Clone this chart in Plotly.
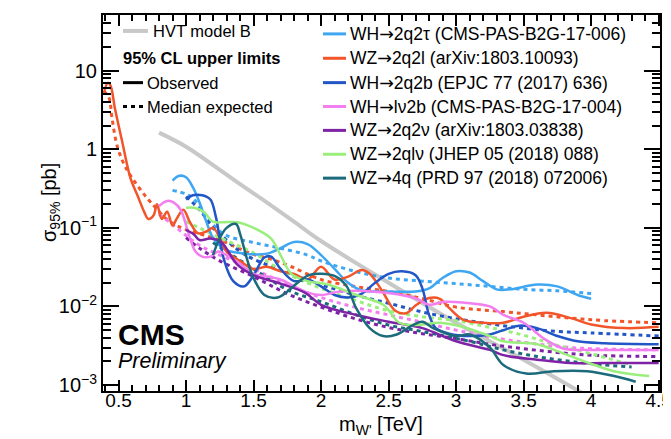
import plotly.graph_objects as go

# ---------------- data ----------------
hvt_m = [0.8, 1.0, 1.2, 1.4, 1.6, 1.8, 2.0, 2.5, 3.0, 3.5, 4.0]
hvt_s = [1.63, 1.08, 0.63, 0.36, 0.21, 0.12, 0.068, 0.020, 0.0062, 0.0021, 0.00068]

# WH->2q2tau (light blue)
tau_obs_m = [0.9, 0.95, 1.0, 1.05, 1.1, 1.15, 1.2, 1.3, 1.4, 1.5, 1.6, 1.7, 1.8, 1.9, 2.0, 2.1, 2.2, 2.3, 2.5, 2.7, 2.8, 2.9, 3.0, 3.1, 3.2, 3.3, 3.4, 3.6, 3.75, 3.9, 4.0]
tau_obs_s = [0.40, 0.46, 0.44, 0.33, 0.21, 0.12, 0.075, 0.052, 0.048, 0.046, 0.047, 0.055, 0.066, 0.062, 0.045, 0.030, 0.020, 0.016, 0.0155, 0.0155, 0.017, 0.023, 0.028, 0.027, 0.021, 0.0165, 0.0165, 0.019, 0.018, 0.014, 0.0125]
tau_exp_m = [0.9, 1.0, 1.05, 1.1, 1.2, 1.3, 1.5, 1.7, 1.9, 2.0, 2.25, 2.5, 2.75, 3.0, 3.25, 3.5, 3.75, 4.0]
tau_exp_s = [0.30, 0.27, 0.24, 0.19, 0.11, 0.08, 0.065, 0.055, 0.045, 0.038, 0.028, 0.023, 0.021, 0.0195, 0.018, 0.0165, 0.0158, 0.0146]

# WZ->2q2l (orange)
ll_obs_m = [0.39, 0.42, 0.44, 0.475, 0.525, 0.59, 0.64, 0.69, 0.72, 0.76, 0.785, 0.82, 0.86, 0.90, 0.93, 0.98, 1.03, 1.09, 1.15, 1.2, 1.25, 1.3, 1.4, 1.5, 1.6, 1.7, 1.8, 1.9, 2.0, 2.1, 2.2, 2.3, 2.36, 2.45, 2.55, 2.63, 2.7, 2.8, 2.88, 2.95, 3.05, 3.2, 3.35, 3.5, 3.67, 3.85, 4.0, 4.25, 4.5]
ll_obs_s = [5.0, 7.0, 6.5, 3.2, 1.3, 0.42, 0.26, 0.16, 0.13, 0.145, 0.20, 0.13, 0.16, 0.107, 0.13, 0.17, 0.117, 0.085, 0.09, 0.10, 0.075, 0.05, 0.038, 0.030, 0.032, 0.028, 0.026, 0.022, 0.032, 0.022, 0.024, 0.029, 0.026, 0.016, 0.0088, 0.0082, 0.0103, 0.0128, 0.0125, 0.0095, 0.0068, 0.0062, 0.0062, 0.0074, 0.0083, 0.0071, 0.0059, 0.0053, 0.0055]
ll_exp_m = [0.39, 0.43, 0.45, 0.49, 0.54, 0.59, 0.66, 0.74, 0.88, 1.0, 1.25, 1.4, 1.5, 1.63, 1.78, 2.0, 2.25, 2.5, 2.75, 3.0, 3.35, 3.6, 3.85, 4.1, 4.5]
ll_exp_s = [5.5, 4.5, 2.6, 1.1, 0.65, 0.46, 0.31, 0.21, 0.12, 0.095, 0.07, 0.054, 0.046, 0.040, 0.032, 0.022, 0.018, 0.0155, 0.0126, 0.0098, 0.0086, 0.0078, 0.0071, 0.0066, 0.0062]

# WH->2q2b (dark blue)
bb_obs_m = [1.0, 1.05, 1.12, 1.18, 1.22, 1.28, 1.35, 1.43, 1.5, 1.58, 1.63, 1.7, 1.8, 1.9, 2.0, 2.1, 2.2, 2.3, 2.4, 2.5, 2.6, 2.7, 2.75, 2.8, 2.85, 2.95, 3.1, 3.25, 3.35, 3.47, 3.6, 3.75, 3.9, 4.1, 4.5]
bb_obs_s = [0.23, 0.26, 0.26, 0.23, 0.14, 0.040, 0.021, 0.018, 0.025, 0.042, 0.043, 0.030, 0.021, 0.022, 0.018, 0.014, 0.013, 0.0145, 0.020, 0.026, 0.028, 0.025, 0.017, 0.0078, 0.0053, 0.0045, 0.0042, 0.0044, 0.0050, 0.0057, 0.0053, 0.0042, 0.0036, 0.0034, 0.0033]
bb_exp_m = [1.0, 1.1, 1.2, 1.3, 1.4, 1.5, 1.75, 2.0, 2.25, 2.5, 2.75, 3.0, 3.25, 3.5, 3.75, 4.0, 4.5]
bb_exp_s = [0.25, 0.17, 0.10, 0.07, 0.05, 0.04, 0.027, 0.019, 0.014, 0.011, 0.0085, 0.0070, 0.0060, 0.0053, 0.0048, 0.0046, 0.0042]

# WH->lnu2b (pink)
lv_obs_m = [0.8, 0.86, 0.91, 0.96, 1.03, 1.07, 1.12, 1.18, 1.24, 1.3, 1.4, 1.5, 1.6, 1.7, 1.8, 1.9, 2.0, 2.14, 2.38, 2.7, 2.8, 2.9, 3.05, 3.25, 3.35, 3.5, 3.65, 3.8, 3.97, 4.5]
lv_obs_s = [0.19, 0.22, 0.21, 0.17, 0.073, 0.050, 0.043, 0.043, 0.050, 0.045, 0.035, 0.026, 0.024, 0.022, 0.018, 0.015, 0.014, 0.0155, 0.0155, 0.0127, 0.0105, 0.0114, 0.0112, 0.0100, 0.0078, 0.0062, 0.0039, 0.0029, 0.0028, 0.0028]
lv_exp_m = [0.8, 0.9, 1.0, 1.1, 1.25, 1.5, 1.75, 2.0, 2.25, 2.5, 2.75, 3.0, 3.25, 3.5, 3.75, 4.0, 4.5]
lv_exp_s = [0.15, 0.11, 0.08, 0.06, 0.045, 0.030, 0.019, 0.013, 0.0098, 0.0078, 0.0063, 0.0050, 0.0041, 0.0035, 0.0031, 0.0029, 0.0028]

# WZ->2q2nu (purple)
vv_obs_m = [1.0, 1.06, 1.1, 1.18, 1.26, 1.38, 1.5, 1.68, 1.88, 2.0, 2.26, 2.5, 2.75, 3.0, 3.25, 3.35, 3.6, 3.85, 4.1, 4.5]
vv_obs_s = [0.094, 0.082, 0.070, 0.073, 0.066, 0.034, 0.025, 0.020, 0.015, 0.0105, 0.0078, 0.0064, 0.0053, 0.0036, 0.0028, 0.0024, 0.0021, 0.0019, 0.0019, 0.0019]
vv_exp_m = [1.0, 1.1, 1.25, 1.5, 1.75, 2.0, 2.25, 2.5, 2.75, 3.0, 3.25, 3.5, 3.75, 4.0, 4.5]
vv_exp_s = [0.075, 0.055, 0.038, 0.024, 0.0145, 0.0098, 0.0070, 0.0054, 0.0045, 0.0039, 0.0033, 0.0029, 0.0026, 0.0024, 0.0023]

# WZ->2qlnu (green)
qlv_obs_m = [1.0, 1.06, 1.13, 1.2, 1.28, 1.38, 1.5, 1.63, 1.7, 1.78, 1.9, 2.05, 2.26, 2.46, 2.58, 2.7, 2.88, 3.05, 3.25, 3.35, 3.6, 3.75, 3.95, 4.17, 4.43]
qlv_obs_s = [0.18, 0.18, 0.16, 0.12, 0.118, 0.118, 0.10, 0.073, 0.045, 0.026, 0.021, 0.019, 0.014, 0.0105, 0.0062, 0.0058, 0.0062, 0.0055, 0.0042, 0.0036, 0.0033, 0.0027, 0.0020, 0.0015, 0.0013]
qlv_exp_m = [1.0, 1.1, 1.25, 1.5, 1.75, 2.0, 2.25, 2.5, 2.75, 3.0, 3.25, 3.5, 3.75, 4.0, 4.3]
qlv_exp_s = [0.12, 0.10, 0.075, 0.048, 0.026, 0.017, 0.012, 0.0088, 0.0074, 0.0066, 0.0054, 0.0043, 0.0032, 0.0025, 0.0018]

# WZ->4q (teal)
q4_obs_m = [1.2, 1.24, 1.3, 1.37, 1.4, 1.45, 1.5, 1.58, 1.68, 1.76, 1.84, 1.91, 2.0, 2.11, 2.19, 2.26, 2.36, 2.46, 2.56, 2.68, 2.75, 2.83, 3.0, 3.1, 3.25, 3.35, 3.52, 3.72, 3.97, 4.17, 4.33]
q4_obs_s = [0.045, 0.068, 0.10, 0.112, 0.084, 0.041, 0.023, 0.014, 0.013, 0.016, 0.021, 0.025, 0.026, 0.024, 0.018, 0.0095, 0.0053, 0.0042, 0.0044, 0.0058, 0.0064, 0.0053, 0.0042, 0.0044, 0.0030, 0.0018, 0.0014, 0.0015, 0.0015, 0.0013, 0.0011]
q4_exp_m = [1.2, 1.3, 1.5, 1.76, 2.0, 2.26, 2.5, 2.75, 3.1, 3.35, 3.6, 3.85, 4.1, 4.3]
q4_exp_s = [0.065, 0.05, 0.030, 0.016, 0.0115, 0.0078, 0.0058, 0.0048, 0.0036, 0.0028, 0.0023, 0.0020, 0.0018, 0.0017]

ARROW = '<span style="font-family:DejaVu Sans">→</span>'
channels = [
    ("WH" + ARROW + "2q2τ (CMS-PAS-B2G-17-006)", "#3fa6f2", tau_obs_m, tau_obs_s, tau_exp_m, tau_exp_s),
    ("WZ" + ARROW + "2q2l (arXiv:1803.10093)", "#f2552a", ll_obs_m, ll_obs_s, ll_exp_m, ll_exp_s),
    ("WH" + ARROW + "2q2b (EPJC 77 (2017) 636)", "#2256c6", bb_obs_m, bb_obs_s, bb_exp_m, bb_exp_s),
    ("WH" + ARROW + "lν2b (CMS-PAS-B2G-17-004)", "#f27ef0", lv_obs_m, lv_obs_s, lv_exp_m, lv_exp_s),
    ("WZ" + ARROW + "2q2ν (arXiv:1803.03838)", "#7e22a6", vv_obs_m, vv_obs_s, vv_exp_m, vv_exp_s),
    ("WZ" + ARROW + "2qlν (JHEP 05 (2018) 088)", "#9aee7c", qlv_obs_m, qlv_obs_s, qlv_exp_m, qlv_exp_s),
    ("WZ" + ARROW + "4q (PRD 97 (2018) 072006)", "#1c6b7c", q4_obs_m, q4_obs_s, q4_exp_m, q4_exp_s),
]

# axis ticks
x_major = [0.5, 1, 1.5, 2, 2.5, 3, 3.5, 4, 4.5]
x_labels = ["0.5", "1", "1.5", "2", "2.5", "3", "3.5", "4", "4.5"]
y_major = [0.001, 0.01, 0.1, 1, 10]
y_labels = ["10<sup>−3</sup>", "10<sup>−2</sup>", "10<sup>−1</sup>", "1", "10"]

# ---------------- figure ----------------
W, H = 671, 439
L, R, T, B = 95, 19, 5, 56
PW, PH = W - L - R, H - T - B
FONT = "Liberation Sans, Arial, Helvetica, sans-serif"

def px(x):
    return (x - L) / PW

def py(y):
    return (H - B - y) / PH

fig = go.Figure()

fig.add_trace(go.Scatter(x=hvt_m, y=hvt_s, mode="lines", line=dict(color="#c8c8c8", width=4, shape="spline"),
                         showlegend=False, hoverinfo="skip"))

for name, col, om, os_, em, es in channels:
    fig.add_trace(go.Scatter(x=em, y=es, mode="lines",
                             line=dict(color=col, width=3, dash="4px,4px", shape="spline", smoothing=1.0),
                             showlegend=False, hoverinfo="skip"))
for name, col, om, os_, em, es in channels:
    fig.add_trace(go.Scatter(x=om, y=os_, mode="lines",
                             line=dict(color=col, width=2.5, shape="spline", smoothing=1.0),
                             showlegend=False, hoverinfo="skip"))

# minor tick positions (axis decoration)
y_minor = []
for d in [1e-3, 1e-2, 1e-1, 1, 10]:
    for k in range(2, 10):
        v = k * d
        if v < 51:
            y_minor.append(v)
x_minor = [round(0.4 + 0.1 * i, 2) for i in range(42)]

fig.update_xaxes(range=[0.385, 4.51], showline=True, linecolor="black", linewidth=2, mirror="allticks",
                 ticks="inside", ticklen=11, tickwidth=1.5, tickcolor="black",
                 tickmode="array", tickvals=x_major, ticktext=x_labels, ticklabelstandoff=-9,
                 minor=dict(ticks="inside", ticklen=6, tickwidth=1.5, tickcolor="black", tickmode="array", tickvals=x_minor),
                 showgrid=False, zeroline=False,
                 tickfont=dict(family=FONT, size=19, color="black"))
fig.update_yaxes(type="log", range=[-3.076, 1.709], showline=True, linecolor="black", linewidth=2, mirror="allticks",
                 ticks="inside", ticklen=16, tickwidth=1.5, tickcolor="black",
                 tickmode="array", tickvals=y_major, ticktext=y_labels,
                 minor=dict(ticks="inside", ticklen=8, tickwidth=1.5, tickcolor="black", tickmode="array", tickvals=y_minor),
                 showgrid=False, zeroline=False,
                 tickfont=dict(family=FONT, size=20, color="black"))

shapes = []
ann = []

def text(x, y, s, size=17, xanchor="left", bold=False, italic=False, angle=0):
    if bold:
        s = "<b>" + s + "</b>"
    if italic:
        s = "<i>" + s + "</i>"
    ann.append(dict(x=px(x), y=py(y), xref="paper", yref="paper", text=s, showarrow=False,
                    xanchor=xanchor, yanchor="middle", textangle=angle,
                    font=dict(family=FONT, size=size, color="black")))

def sample(x0, x1, y, col, width=3, dash="solid"):
    shapes.append(dict(type="line", xref="paper", yref="paper", x0=px(x0), x1=px(x1), y0=py(y), y1=py(y),
                       line=dict(color=col, width=width, dash=dash)))

# left legend block
sample(115, 140, 21, "#c8c8c8", width=4)
text(143, 21, "HVT model B", size=16.5)
text(113, 48, "95% CL upper limits", size=16.5, bold=True)
sample(115, 135, 73, "black", width=3)
text(137, 73, "Observed", size=16.5)
sample(115, 135, 97, "black", width=3, dash="4px,4px")
text(137, 97, "Median expected", size=16.5)

# right legend block
ys = [24, 48.5, 73, 97, 121, 145, 169]
for (name, col, *_), yy in zip(channels, ys):
    sample(315, 338, yy, col, width=3)
    text(340, yy, name, size=17.5)

# CMS label
text(108, 326, "CMS", size=30, bold=True)
text(108, 353, "Preliminary", size=21.5, italic=True)

# axis titles
text(373, 418, "m<sub>W'</sub> [TeV]", size=20, xanchor="center")
text(42, 194, "σ<sub>95%</sub> [pb]", size=20, xanchor="center", angle=-90)

fig.update_layout(width=W, height=H, margin=dict(l=L, r=R, t=T, b=B),
                  plot_bgcolor="white", paper_bgcolor="white",
                  shapes=shapes, annotations=ann, showlegend=False,
                  font=dict(family=FONT, color="black"))

fig.write_html("out.html")
